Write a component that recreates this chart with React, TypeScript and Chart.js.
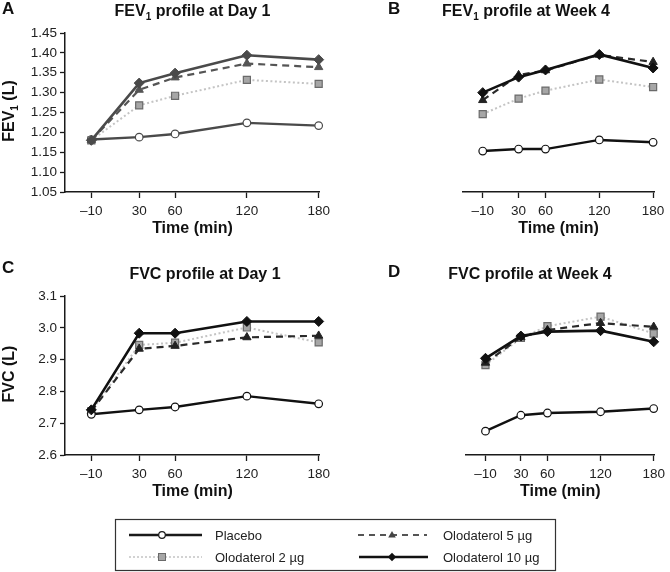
import React, { useEffect, useRef } from "react";
import { Chart, registerables } from "chart.js";

Chart.register(...registerables);
Chart.defaults.font.family = "'Liberation Sans', Arial, Helvetica, sans-serif";

// ---------- data ----------
const timePoints = [-10, 30, 60, 120, 180];
const fevTicks = [1.05, 1.1, 1.15, 1.2, 1.25, 1.3, 1.35, 1.4, 1.45];
const fvcTicks = [2.6, 2.7, 2.8, 2.9, 3.0, 3.1];
const seriesNames = ["Placebo", "Olodaterol 2 \u00b5g", "Olodaterol 5 \u00b5g", "Olodaterol 10 \u00b5g"];

// A: FEV1 Day 1
const fevDay1Placebo = [1.182, 1.188, 1.196, 1.224, 1.217];
const fevDay1Olo2 = [1.18, 1.268, 1.292, 1.332, 1.322];
const fevDay1Olo5 = [1.18, 1.307, 1.338, 1.373, 1.364];
const fevDay1Olo10 = [1.18, 1.324, 1.349, 1.394, 1.383];
// B: FEV1 Week 4
const fevWeek4Placebo = [1.153, 1.158, 1.158, 1.181, 1.175];
const fevWeek4Olo2 = [1.246, 1.285, 1.305, 1.333, 1.314];
const fevWeek4Olo5 = [1.281, 1.344, 1.356, 1.395, 1.377];
const fevWeek4Olo10 = [1.3, 1.339, 1.357, 1.396, 1.362];
// C: FVC Day 1
const fvcDay1Placebo = [2.728, 2.742, 2.751, 2.785, 2.761];
const fvcDay1Olo2 = [2.738, 2.946, 2.953, 3.001, 2.954];
const fvcDay1Olo5 = [2.738, 2.934, 2.943, 2.97, 2.975];
const fvcDay1Olo10 = [2.742, 2.983, 2.983, 3.02, 3.02];
// D: FVC Week 4
const fvcWeek4Placebo = [2.675, 2.725, 2.732, 2.736, 2.746];
const fvcWeek4Olo2 = [2.883, 2.968, 3.005, 3.035, 2.982];
const fvcWeek4Olo5 = [2.89, 2.97, 2.993, 3.015, 3.003];
const fvcWeek4Olo10 = [2.904, 2.974, 2.988, 2.991, 2.956];

const FONT = "'Liberation Sans', Arial, Helvetica, sans-serif";

type PanelCfg = {
  left: number;
  top: number;
  w: number;
  h: number;
  padLeft: number;
  padRight: number;
  padTop: number;
  xHeight: number;
  showY: boolean;
  yTicks: number[];
  yDec: number;
  series: number[][];
  dark: string;
};

function toPts(vals: number[]) {
  return timePoints.map((t, i) => ({ x: t, y: vals[i] }));
}

function buildDatasets(series: number[][], dark: string) {
  const [pl, o2, o5, o10] = series;
  const isBlack = dark === "#111111";
  return [
    {
      label: seriesNames[3],
      data: toPts(o10),
      borderColor: dark,
      borderWidth: 2.6,
      pointStyle: "rectRot",
      pointRadius: 5,
      pointBackgroundColor: dark,
      pointBorderColor: dark,
      pointBorderWidth: 1,
      order: 0,
      clip: false,
    },
    {
      label: seriesNames[0],
      data: toPts(pl),
      borderColor: dark,
      borderWidth: 2.4,
      pointStyle: "circle",
      pointRadius: 3.8,
      pointBackgroundColor: "#ffffff",
      pointBorderColor: dark,
      pointBorderWidth: 1.2,
      order: 1,
      clip: false,
    },
    {
      label: seriesNames[2],
      data: toPts(o5),
      borderColor: isBlack ? "#2a2a2a" : "#555555",
      borderWidth: 2.2,
      borderDash: [7, 5],
      pointStyle: "triangle",
      pointRadius: 4.8,
      pointBackgroundColor: isBlack ? "#222222" : "#555555",
      pointBorderColor: isBlack ? "#222222" : "#555555",
      pointBorderWidth: 1,
      order: 2,
      clip: false,
    },
    {
      label: seriesNames[1],
      data: toPts(o2),
      borderColor: "#c4c4c4",
      borderWidth: 2,
      borderDash: [2, 2.5],
      pointStyle: "rect",
      pointRadius: 5,
      pointBackgroundColor: "#a6a6a6",
      pointBorderColor: "#6a6a6a",
      pointBorderWidth: 1.2,
      order: 3,
      clip: false,
    },
  ];
}

function Panel({ cfg }: { cfg: PanelCfg }) {
  const ref = useRef<HTMLCanvasElement | null>(null);
  useEffect(() => {
    if (!ref.current) return;
    const axisCol = "#1a1a1a";
    const chart = new Chart(ref.current, {
      type: "line",
      data: { datasets: buildDatasets(cfg.series, cfg.dark) as any },
      options: {
        animation: false,
        responsive: false,
        maintainAspectRatio: false,
        devicePixelRatio: 1,
        layout: { padding: { left: cfg.padLeft, right: cfg.padRight, top: cfg.padTop, bottom: 0 } },
        plugins: { legend: { display: false }, tooltip: { enabled: false }, title: { display: false } },
        elements: { line: { tension: 0 } },
        scales: {
          x: {
            type: "linear",
            min: -32,
            max: 181,
            afterBuildTicks: (s: any) => {
              s.ticks = timePoints.map((v) => ({ value: v }));
            },
            afterFit: (s: any) => {
              s.height = cfg.xHeight;
            },
            ticks: {
              autoSkip: false,
              maxRotation: 0,
              padding: 5,
              color: "#222",
              font: { size: 13.5 },
              callback: (v: any) => (Number(v) === -10 ? "\u201310" : String(v)),
            },
            grid: { display: true, drawOnChartArea: false, drawTicks: true, tickLength: 6, tickColor: axisCol, tickWidth: 1.3 },
            border: { display: true, color: axisCol, width: 1.5 },
            title: {
              display: true,
              text: "Time (min)",
              color: "#111",
              font: { size: 16, weight: "bold" },
              padding: { top: 0, bottom: 12 },
            },
          },
          y: {
            type: "linear",
            display: cfg.showY,
            min: cfg.yTicks[0],
            max: cfg.yTicks[cfg.yTicks.length - 1],
            afterBuildTicks: (s: any) => {
              s.ticks = cfg.yTicks.map((v) => ({ value: v }));
            },
            afterFit: (s: any) => {
              s.width = 65;
            },
            ticks: {
              padding: 3,
              color: "#222",
              font: { size: 13.5 },
              callback: (v: any) => Number(v).toFixed(cfg.yDec),
            },
            grid: { display: true, drawOnChartArea: false, drawTicks: true, tickLength: 5, tickColor: axisCol, tickWidth: 1.3 },
            border: { display: true, color: axisCol, width: 1.5 },
          },
        },
      } as any,
    });
    return () => chart.destroy();
  }, []);
  return (
    <canvas
      ref={ref}
      width={cfg.w}
      height={cfg.h}
      style={{ position: "absolute", left: cfg.left, top: cfg.top, width: cfg.w, height: cfg.h }}
    />
  );
}

const panels: PanelCfg[] = [
  {
    left: 0, top: 0, w: 335, h: 250, padLeft: 0, padRight: 13, padTop: 33, xHeight: 58, showY: true,
    yTicks: fevTicks, yDec: 2, series: [fevDay1Placebo, fevDay1Olo2, fevDay1Olo5, fevDay1Olo10], dark: "#4a4a4a",
  },
  {
    left: 335, top: 0, w: 335, h: 250, padLeft: 63, padRight: 16, padTop: 33, xHeight: 58, showY: false,
    yTicks: fevTicks, yDec: 2, series: [fevWeek4Placebo, fevWeek4Olo2, fevWeek4Olo5, fevWeek4Olo10], dark: "#111111",
  },
  {
    left: 0, top: 250, w: 335, h: 263, padLeft: 0, padRight: 13, padTop: 46, xHeight: 58, showY: true,
    yTicks: fvcTicks, yDec: 1, series: [fvcDay1Placebo, fvcDay1Olo2, fvcDay1Olo5, fvcDay1Olo10], dark: "#111111",
  },
  {
    left: 335, top: 250, w: 335, h: 263, padLeft: 66, padRight: 12, padTop: 46, xHeight: 58, showY: false,
    yTicks: fvcTicks, yDec: 1, series: [fvcWeek4Placebo, fvcWeek4Olo2, fvcWeek4Olo5, fvcWeek4Olo10], dark: "#111111",
  },
];

const Sub = ({ children, size }: { children: any; size: number }) => (
  <span style={{ fontSize: size, position: "relative", top: 4 }}>{children}</span>
);

function Title({ cx, baseline, children }: { cx: number; baseline: number; children: any }) {
  return (
    <div
      style={{
        position: "absolute",
        left: cx - 200,
        width: 400,
        top: baseline - 13.5,
        height: 16,
        lineHeight: "16px",
        fontSize: 16,
        fontWeight: "bold",
        fontFamily: FONT,
        color: "#111",
        textAlign: "center",
        whiteSpace: "nowrap",
      }}
    >
      {children}
    </div>
  );
}

function Letter({ x, baseline, text }: { x: number; baseline: number; text: string }) {
  return (
    <div
      style={{
        position: "absolute",
        left: x,
        top: baseline - 14.4,
        lineHeight: "17px",
        height: 17,
        fontSize: 17,
        fontWeight: "bold",
        fontFamily: FONT,
        color: "#111",
      }}
    >
      {text}
    </div>
  );
}

function YTitle({ cx, cy, children }: { cx: number; cy: number; children: any }) {
  return (
    <div
      style={{
        position: "absolute",
        left: cx - 60,
        top: cy - 9,
        width: 120,
        height: 18,
        lineHeight: "18px",
        fontSize: 16,
        fontWeight: "bold",
        fontFamily: FONT,
        color: "#111",
        textAlign: "center",
        whiteSpace: "nowrap",
        transform: "rotate(-90deg)",
      }}
    >
      {children}
    </div>
  );
}

function Legend() {
  const r1 = 535;
  const r2 = 557;
  const tri = (cx: number, cy: number, s: number) =>
    `${cx},${cy - s} ${cx + s * 0.95},${cy + s * 0.65} ${cx - s * 0.95},${cy + s * 0.65}`;
  const dia = (cx: number, cy: number, s: number) => `${cx},${cy - s} ${cx + s},${cy} ${cx},${cy + s} ${cx - s},${cy}`;
  const txt = { fontFamily: FONT, fontSize: 13, fill: "#222" } as any;
  return (
    <svg width={670} height={572} style={{ position: "absolute", left: 0, top: 0, pointerEvents: "none" }}>
      <rect x={115.5} y={519.5} width={440} height={51} fill="none" stroke="#333" strokeWidth={1.2} />
      <line x1={129} y1={r1} x2={202} y2={r1} stroke="#1a1a1a" strokeWidth={2.4} />
      <circle cx={162} cy={r1} r={3.3} fill="#fff" stroke="#1a1a1a" strokeWidth={1.2} />
      <text x={215} y={r1 + 4.5} style={txt}>{seriesNames[0]}</text>

      <line x1={129} y1={r2} x2={202} y2={r2} stroke="#c4c4c4" strokeWidth={1.6} strokeDasharray="2 2" />
      <rect x={158.5} y={r2 - 3.5} width={7} height={7} fill="#a6a6a6" stroke="#6a6a6a" strokeWidth={1} />
      <text x={215} y={r2 + 4.5} style={txt}>{seriesNames[1]}</text>

      <line x1={358} y1={r1} x2={427} y2={r1} stroke="#555" strokeWidth={2} strokeDasharray="6 5" />
      <polygon points={tri(392, r1, 4)} fill="#444" />
      <text x={443} y={r1 + 4.5} style={txt}>{seriesNames[2]}</text>

      <line x1={359} y1={r2} x2={428} y2={r2} stroke="#111" strokeWidth={2.4} />
      <polygon points={dia(392, r2, 4.2)} fill="#111" />
      <text x={443} y={r2 + 4.5} style={txt}>{seriesNames[3]}</text>
    </svg>
  );
}

export default function App() {
  return (
    <div style={{ position: "fixed", left: 0, top: 0, width: 670, height: 572, background: "#fff", overflow: "hidden" }}>
      {panels.map((p, i) => (
        <Panel key={i} cfg={p} />
      ))}
      <Letter x={2} baseline={14} text="A" />
      <Letter x={388} baseline={14} text="B" />
      <Letter x={2} baseline={273} text="C" />
      <Letter x={388} baseline={277.5} text="D" />
      <Title cx={192.5} baseline={16.5}>
        FEV<Sub size={10}>1</Sub> profile at Day 1
      </Title>
      <Title cx={526} baseline={16.5}>
        FEV<Sub size={10}>1</Sub> profile at Week 4
      </Title>
      <Title cx={205} baseline={279}>FVC profile at Day 1</Title>
      <Title cx={530} baseline={279.5}>FVC profile at Week 4</Title>
      <YTitle cx={9} cy={111}>
        FEV<Sub size={10}>1</Sub> (L)
      </YTitle>
      <YTitle cx={9} cy={374}>FVC (L)</YTitle>
      <Legend />
    </div>
  );
}
